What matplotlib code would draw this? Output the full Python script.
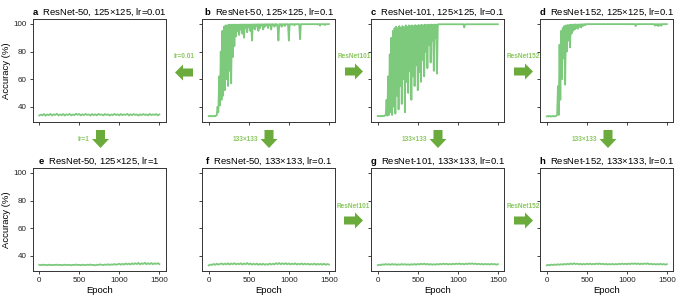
import numpy as np
import matplotlib
matplotlib.use("Agg")
import matplotlib.pyplot as plt
from matplotlib.patches import Polygon

plt.rcParams["font.family"] = ["Liberation Sans", "DejaVu Sans"]
plt.rcParams["mathtext.fontset"] = "custom"
plt.rcParams["mathtext.bf"] = "Liberation Sans:bold"
plt.rcParams["mathtext.rm"] = "Liberation Sans"

# accuracy curves, flat runs read every 20 epochs, learning runs every 10 epochs
acc_a = [33.6, 34.3, 33.8, 34.7, 33.5, 34.4, 33.9, 34.8, 33.6, 34.5,
         34.0, 34.9, 33.7, 34.4, 33.9, 34.7, 33.6, 34.5, 34.0, 34.8,
         33.7, 34.4, 33.9, 34.9, 34.1, 34.7, 33.7, 34.5, 33.9, 34.8,
         34.0, 34.4, 33.6, 34.7, 33.9, 34.5, 33.7, 34.8, 34.1, 34.4,
         33.7, 34.7, 34.0, 34.5, 33.6, 34.4, 33.9, 34.8, 34.0, 34.5,
         33.7, 34.7, 33.9, 34.4, 34.1, 34.8, 33.7, 34.5, 33.9, 34.7,
         34.0, 34.4, 33.6, 34.5, 33.9, 34.7, 34.0, 34.4, 33.7, 34.8,
         33.9, 34.5, 34.0, 34.7, 33.7, 34.4]

acc_b = [33.2, 33.0, 33.4, 33.1, 33.3, 33.0, 33.2, 33.4, 33.1, 33.5,
         33.8, 40, 36, 62, 41, 80, 45, 95, 48, 98,
         52, 99, 60, 99, 55, 99.5, 66, 99.5, 57, 99.5,
         76, 99.5, 84, 99.6, 91, 99.4, 95, 99.6, 92, 99.5,
         96, 99.7, 93, 99.6, 90, 99.7, 97, 99.6, 94, 99.7,
         98, 99.6, 95, 99.7, 88, 99.7, 97, 99.8, 96, 99.7,
         98.5, 99.8, 95, 99.8, 97, 99.8, 99, 99.8, 96, 99.8,
         98, 99.9, 99, 99.8, 97, 99.9, 99.2, 99.8, 96, 99.9,
         99.5, 99.8, 98, 99.9, 99.3, 99.9, 97.5, 88, 99.9, 99.5,
         99.9, 98, 99.9, 99.6, 99.9, 98.5, 99.9, 99.7, 99.9, 99.8,
         88, 99.9, 99.8, 99.9, 99.5, 99.9, 99.9, 99.0, 99.9, 99.9,
         99.8, 99.9, 99.9, 99.7, 89, 99.9, 99.9, 99.9, 99.8, 99.9,
         99.9, 99.8, 99.9, 99.9, 99.7, 99.9, 99.9, 99.9, 99.8, 99.9,
         99.9, 99.9, 99.8, 99.9, 99.9, 99.9, 99.6, 99.9, 99.9, 98.8,
         99.9, 99.9, 99.8, 99.9, 99.9, 99.2, 99.9, 99.9, 99.8, 99.9,
         99.9]

acc_c = [33.3, 33.1, 33.4, 33.2, 33.0, 33.3, 33.5, 33.1, 33.2, 33.6,
         34, 45, 33.5, 62, 34, 78, 36, 90, 34, 95,
         40, 97, 35, 98, 48, 97, 38, 98.5, 55, 97,
         42, 98.5, 60, 97.5, 36, 99, 58, 98, 50, 99,
         66, 98.5, 45, 99, 62, 98.5, 55, 99.2, 70, 98.5,
         52, 99.3, 65, 99, 58, 99.4, 74, 99, 62, 99.5,
         80, 99.2, 68, 99.5, 85, 99.3, 72, 99.6, 88, 99.4,
         66, 99.6, 90, 99.5, 64, 99.7, 99.8, 99.8, 99.8, 99.8,
         99.8, 99.8, 99.8, 99.8, 99.8, 99.8, 99.8, 99.8, 99.8, 99.8,
         99.8, 99.8, 99.8, 99.8, 99.8, 99.8, 99.8, 99.8, 99.8, 99.8,
         99.8, 99.8, 99.8, 99.8, 99.8, 99.8, 99.8, 99.8, 97.5, 99.8,
         99.8, 99.8, 99.8, 99.8, 99.8, 99.8, 99.8, 99.8, 99.8, 99.8,
         99.8, 99.8, 99.8, 99.8, 99.8, 99.8, 99.8, 99.8, 99.8, 99.8,
         99.8, 99.8, 99.8, 99.8, 99.8, 99.8, 99.8, 99.8, 99.8, 99.8,
         99.8, 99.8, 99.8, 99.8, 99.8, 99.8, 99.8, 99.8, 99.8, 99.8,
         99.8]

acc_d = [33.0, 33.2, 32.9, 33.3, 33.1, 32.8, 33.2, 33.0, 33.3, 33.1,
         32.9, 33.2, 33.4, 34, 55, 34, 85, 45, 95, 60,
         97, 75, 98.5, 56, 99, 80, 99.2, 88, 99.3, 83,
         99.5, 93, 99.5, 95, 99.6, 96, 99.7, 97, 99.6, 96.5,
         99.7, 98, 99.8, 97.5, 99.8, 98.5, 99.8, 99.9, 99.0, 99.9,
         99.9, 99.9, 99.9, 99.9, 99.9, 99.9, 99.9, 99.9, 99.9, 99.9,
         99.9, 99.9, 99.9, 99.9, 99.9, 99.9, 99.9, 99.9, 99.9, 99.9,
         99.9, 99.9, 99.9, 99.9, 99.9, 99.9, 99.9, 99.9, 99.9, 99.9,
         99.9, 99.9, 99.9, 99.9, 99.9, 99.9, 99.9, 99.9, 99.9, 99.9,
         99.9, 99.9, 99.9, 99.9, 99.9, 99.9, 99.9, 99.9, 99.9, 99.9,
         99.9, 99.9, 99.9, 99.9, 99.9, 99.9, 99.9, 99.9, 99.9, 99.9,
         99.9, 98.5, 99.9, 99.9, 99.9, 99.9, 99.9, 99.9, 99.9, 99.9,
         99.9, 99.9, 99.9, 99.9, 99.9, 99.9, 99.9, 99.9, 99.9, 99.9,
         99.9, 99.9, 99.9, 99.9, 99.9, 98.8, 99.9, 99.2, 99.9, 98.5,
         99.9, 99.0, 99.9, 98.7, 99.9, 99.9, 99.9, 99.9, 99.9, 99.9,
         99.9]

acc_e = [33.4, 33.2, 33.5, 33.3, 33.4, 33.1, 33.5, 33.3, 33.2, 33.4,
         33.3, 33.5, 33.2, 33.4, 33.1, 33.3, 33.5, 33.2, 33.4, 33.3,
         33.1, 33.4, 33.3, 33.6, 33.2, 33.4, 33.1, 33.5, 33.3, 33.2,
         33.5, 33.3, 33.6, 33.2, 33.4, 33.0, 33.5, 33.3, 33.7, 33.4,
         33.2, 33.6, 33.4, 33.8, 33.3, 33.7, 33.5, 34.0, 33.4, 33.8,
         34.2, 33.5, 34.1, 33.6, 34.4, 33.7, 34.3, 33.6, 34.5, 33.8,
         34.6, 33.9, 34.8, 33.7, 34.5, 34.0, 34.9, 33.8, 34.6, 33.9,
         34.7, 33.8, 34.5, 34.0, 34.6, 33.9]

acc_f = [33.0, 33.6, 33.3, 34.0, 33.4, 34.2, 33.5, 34.0, 34.4, 33.6,
         34.3, 33.7, 34.5, 33.6, 34.4, 33.8, 34.6, 33.7, 34.3, 33.8,
         34.5, 33.6, 34.4, 33.8, 34.7, 33.7, 34.4, 33.5, 34.2, 33.6,
         34.3, 33.4, 34.1, 33.5, 34.2, 33.4, 34.0, 33.5, 34.3, 33.6,
         34.2, 33.7, 34.6, 33.9, 34.7, 33.8, 34.5, 33.9, 34.6, 33.8,
         34.4, 33.7, 34.3, 33.8, 34.5, 33.6, 34.2, 33.7, 34.4, 33.6,
         34.3, 33.7, 34.2, 33.5, 34.1, 33.6, 34.3, 33.5, 34.1, 33.6,
         34.1, 33.5, 34.2, 33.4, 34.0, 33.6]

acc_g = [33.1, 33.5, 33.2, 33.8, 33.4, 34.0, 33.5, 33.9, 33.4, 34.0,
         33.5, 33.9, 33.3, 33.8, 33.4, 34.0, 33.5, 33.9, 33.4, 33.8,
         33.3, 33.9, 33.5, 34.0, 33.4, 34.1, 33.6, 34.2, 33.7, 34.3,
         33.6, 34.1, 33.5, 34.0, 33.4, 33.9, 33.5, 34.0, 33.6, 34.1,
         33.7, 34.3, 33.8, 34.2, 33.6, 34.1, 33.7, 34.2, 33.8, 34.3,
         33.9, 34.4, 33.8, 34.2, 33.7, 34.3, 33.9, 34.4, 34.0, 34.5,
         33.9, 34.3, 33.8, 34.2, 33.7, 34.1, 33.6, 34.1, 33.7, 34.0,
         33.6, 34.1, 33.7, 34.0, 33.5, 33.9]

acc_h = [33.0, 33.4, 33.1, 33.6, 33.2, 33.7, 33.3, 33.8, 33.4, 33.9,
         33.5, 34.1, 33.6, 34.2, 33.7, 34.4, 33.8, 34.5, 33.9, 34.3,
         33.7, 34.2, 33.6, 34.1, 33.7, 34.2, 33.8, 34.3, 33.7, 34.1,
         33.8, 34.3, 33.9, 34.4, 33.8, 34.2, 33.7, 34.1, 33.6, 34.0,
         33.7, 34.1, 33.6, 34.0, 33.7, 34.2, 33.8, 34.3, 33.9, 34.2,
         33.8, 34.3, 33.9, 34.4, 34.0, 34.5, 33.9, 34.4, 33.8, 34.3,
         33.9, 34.4, 34.0, 34.5, 33.8, 34.2, 33.7, 34.1, 33.6, 34.0,
         33.7, 34.1, 33.6, 34.0, 33.5, 33.9]

letters = ["a", "b", "c", "d", "e", "f", "g", "h"]
titles = ["ResNet-50, 125×125, lr=0.01", "ResNet-50, 125×125, lr=0.1",
          "ResNet-101, 125×125, lr=0.1", "ResNet-152, 125×125, lr=0.1",
          "ResNet-50, 125×125, lr=1", "ResNet-50, 133×133, lr=0.1",
          "ResNet-101, 133×133, lr=0.1", "ResNet-152, 133×133, lr=0.1"]
curves = [acc_a, acc_b, acc_c, acc_d, acc_e, acc_f, acc_g, acc_h]

W, H = 685, 299
fig = plt.figure(figsize=(W / 100, H / 100), dpi=100)

line_color = "#7dca7d"
arrow_color = "#6aab3c"
label_color = "#8cc862"

lefts = [32.5, 202, 371, 540]
tops = [19.3, 168.3]
ax_w, ax_h = 133.3, 103

for i, vals in enumerate(curves):
    row, col = divmod(i, 4)
    x0 = lefts[col] / W
    y0 = 1 - (tops[row] + ax_h) / H
    ax = fig.add_axes([x0, y0, ax_w / W, ax_h / H])
    epochs = np.linspace(0, 1500, len(vals))
    ax.plot(epochs, vals, color=line_color, lw=1.3)
    ax.set_xlim(-84, 1580)
    ax.set_ylim(28.7, 103.4)
    ax.set_yticks([40, 60, 80, 100])
    ax.set_xticks([0, 500, 1000, 1500])
    ax.tick_params(labelsize=5.8, length=2.5, width=0.6, pad=1.5, colors="#222222")
    for s in ax.spines.values():
        s.set_linewidth(0.7)
        s.set_color("#333333")
    if col != 0:
        ax.set_yticklabels([])
    else:
        ax.set_ylabel("Accuracy (%)", fontsize=6.8, labelpad=2)
    if row == 0:
        ax.set_xticklabels([])
    else:
        ax.set_xlabel("Epoch", fontsize=6.8, labelpad=1.5)
    ax.set_title(r"$\mathbf{" + letters[i] + "}$  " + titles[i], fontsize=6.8, pad=3)


def to_fig(pts):
    return [(x / W, 1 - y / H) for x, y in pts]


def h_arrow(x0, x1, yc, right=True, shaft=8, head=16, head_len=8):
    if not right:
        x0, x1 = x1, x0
        head_len = -head_len
    pts = [(x0, yc - shaft / 2), (x1 - head_len, yc - shaft / 2), (x1 - head_len, yc - head / 2),
           (x1, yc), (x1 - head_len, yc + head / 2), (x1 - head_len, yc + shaft / 2),
           (x0, yc + shaft / 2)]
    fig.patches.append(Polygon(to_fig(pts), closed=True, transform=fig.transFigure,
                               facecolor=arrow_color, edgecolor="none"))


def v_arrow(xc, y0, y1, shaft=9, head=17, head_len=9):
    pts = [(xc - shaft / 2, y0), (xc - shaft / 2, y1 - head_len), (xc - head / 2, y1 - head_len),
           (xc, y1), (xc + head / 2, y1 - head_len), (xc + shaft / 2, y1 - head_len),
           (xc + shaft / 2, y0)]
    fig.patches.append(Polygon(to_fig(pts), closed=True, transform=fig.transFigure,
                               facecolor=arrow_color, edgecolor="none"))


def small_label(x, y, s, ha="center"):
    fig.text(x / W, 1 - y / H, s, fontsize=4.7, fontweight="bold", color=label_color,
             ha=ha, va="center")


# horizontal arrows
h_arrow(175, 193, 72.5, right=False)
small_label(184, 57, "lr=0.01")
h_arrow(345, 363, 71.5)
small_label(354, 57, "ResNet101")
h_arrow(514, 533, 71.5)
small_label(523, 57, "ResNet152")
h_arrow(344, 363, 220.5)
small_label(353, 206, "ResNet101")
h_arrow(514, 533, 220.5)
small_label(523, 206, "ResNet152")

# vertical arrows
for xc, lab in [(100.5, "lr=1"), (269, "133×133"), (438, "133×133"), (608, "133×133")]:
    v_arrow(xc, 130, 148)
    small_label(xc - 11, 139.5, lab, ha="right")

fig.savefig("out.png", dpi=100)
